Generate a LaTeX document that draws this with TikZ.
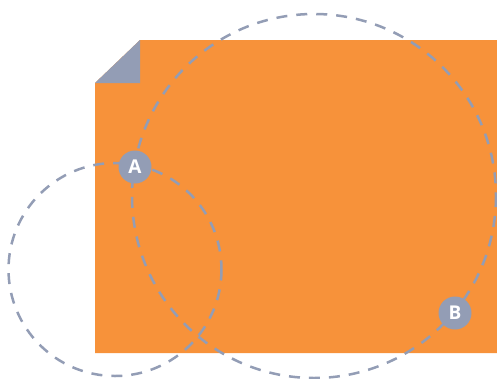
\documentclass[tikz,border=0pt]{standalone}
\usepackage{fontspec}
\setmainfont{Open Sans}
\definecolor{orng}{HTML}{F7923A}
\definecolor{gry}{HTML}{939DB5}
\begin{document}
\begin{tikzpicture}[x=1pt,y=-1pt,
  ring/.style={draw=gry,line width=2.5pt,dashed,dash pattern=on 11pt off 9pt},
  badge/.style={circle,fill=gry,minimum size=33pt,inner sep=0pt,text=white,font=\fontsize{19}{19}\selectfont\bfseries}]
\useasboundingbox (0,0) rectangle (497,378);
\fill[orng] (95,83) -- (140,40) -- (497,40) -- (497,353) -- (95,353) -- cycle;
\fill[gry] (95,83) -- (140,40) -- (140,83) -- cycle;
\draw[ring] (115,269.5) circle [radius=106.5];
\draw[ring] (314,196) circle [radius=182];
\node[badge] (A) at (135,167) {A};
\node[badge] (B) at (455,313) {B};
\end{tikzpicture}
\end{document}
